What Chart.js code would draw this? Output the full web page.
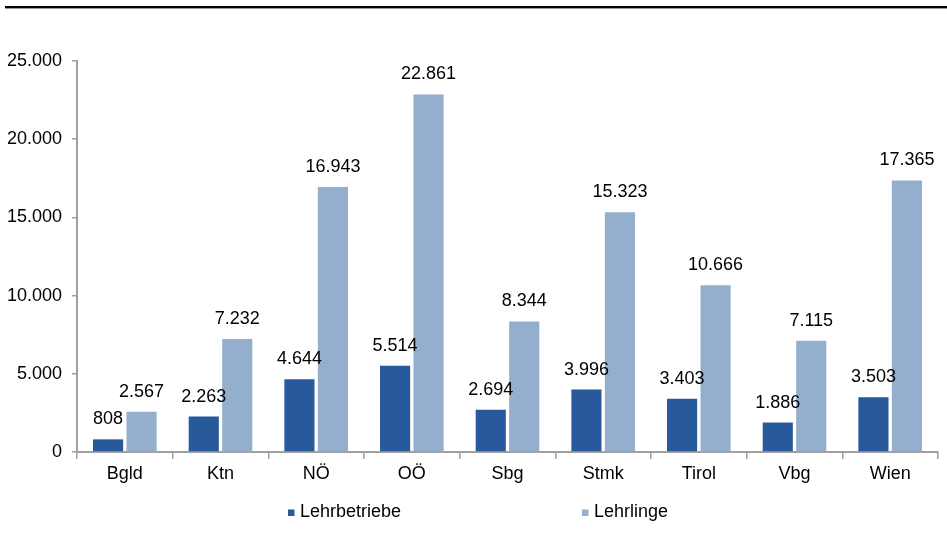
<!DOCTYPE html>
<html>
<head>
<meta charset="utf-8">
<script src="https://cdn.jsdelivr.net/npm/chart.js@4/dist/chart.umd.min.js"></script>
<style>
  html, body { margin: 0; padding: 0; background: #fff; }
  #wrap { position: relative; width: 947px; height: 540px; }
</style>
</head>
<body>
<div id="wrap"><canvas id="c" width="947" height="540"></canvas></div>
<script>
const categories = ['Bgld', 'Ktn', 'NÖ', 'OÖ', 'Sbg', 'Stmk', 'Tirol', 'Vbg', 'Wien'];
const lehrbetriebe = [808, 2263, 4644, 5514, 2694, 3996, 3403, 1886, 3503];
const lehrlinge = [2567, 7232, 16943, 22861, 8344, 15323, 10666, 7115, 17365];
const seriesNames = ['Lehrbetriebe', 'Lehrlinge'];
const yTicks = [0, 5000, 10000, 15000, 20000, 25000];

const FONT = "'Liberation Sans', Arial, sans-serif";
const fmt = v => String(v).replace(/\B(?=(\d{3})+(?!\d))/g, '.');

const topRule = {
  id: 'topRule',
  beforeDraw(chart) {
    const ctx = chart.ctx;
    ctx.save();
    ctx.fillStyle = '#000';
    ctx.fillRect(5, 6, 942, 2.4);
    ctx.restore();
  }
};

const valueLabels = {
  id: 'valueLabels',
  afterDatasetsDraw(chart) {
    const ctx = chart.ctx;
    ctx.save();
    ctx.font = '18px ' + FONT;
    ctx.fillStyle = '#000';
    ctx.textAlign = 'center';
    ctx.textBaseline = 'alphabetic';
    chart.data.datasets.forEach((ds, di) => {
      const meta = chart.getDatasetMeta(di);
      meta.data.forEach((bar, i) => {
        ctx.fillText(fmt(ds.data[i]), bar.x, bar.y - 15);
      });
    });
    ctx.restore();
  }
};

const customLegend = {
  id: 'customLegend',
  afterDraw(chart) {
    const ctx = chart.ctx;
    const xs = [288, 582];
    ctx.save();
    ctx.font = '18px ' + FONT;
    ctx.textBaseline = 'alphabetic';
    ctx.textAlign = 'left';
    chart.data.datasets.forEach((ds, i) => {
      ctx.fillStyle = ds.backgroundColor;
      ctx.fillRect(xs[i], 509.5, 6.5, 6.5);
      ctx.fillStyle = '#000';
      ctx.fillText(ds.label, xs[i] + 12, 516.5);
    });
    ctx.restore();
  }
};

new Chart(document.getElementById('c'), {
  type: 'bar',
  data: {
    labels: categories,
    datasets: [
      { label: seriesNames[0], data: lehrbetriebe, backgroundColor: '#285A9B' },
      { label: seriesNames[1], data: lehrlinge, backgroundColor: '#94AFCE' }
    ]
  },
  options: {
    responsive: false,
    animation: false,
    devicePixelRatio: 1,
    layout: { padding: { top: 61, left: 0, right: 9, bottom: 0 } },
    datasets: { bar: { categoryPercentage: 0.70, barPercentage: 0.90 } },
    plugins: {
      legend: { display: false },
      tooltip: { enabled: false },
      title: { display: false }
    },
    scales: {
      x: {
        grid: { display: true, drawOnChartArea: false, offset: true, tickLength: 7, color: '#A0A0A0', lineWidth: 1.5 },
        border: { display: true, color: '#A0A0A0', width: 2 },
        ticks: { font: { family: FONT, size: 18 }, color: '#000', padding: 4 },
        afterFit(scale) { scale.height = 88; }
      },
      y: {
        min: 0, max: 25000,
        afterBuildTicks(scale) { scale.ticks = yTicks.map(v => ({ value: v })); },
        grid: { display: true, drawOnChartArea: false, tickLength: 5, color: '#A0A0A0', lineWidth: 1.5 },
        border: { display: true, color: '#A0A0A0', width: 2 },
        ticks: { font: { family: FONT, size: 18 }, color: '#000', padding: 10, callback: v => fmt(v) },
        afterFit(scale) { scale.width = 77; }
      }
    }
  },
  plugins: [topRule, valueLabels, customLegend]
});
</script>
</body>
</html>
